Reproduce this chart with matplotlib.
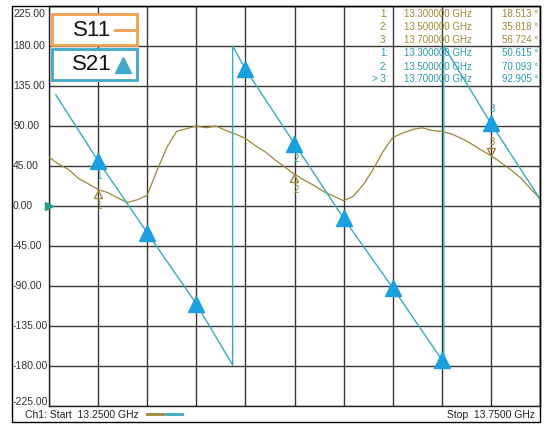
import numpy as np
import matplotlib
matplotlib.use("Agg")
import matplotlib.pyplot as plt
from matplotlib.patches import Rectangle
from matplotlib.lines import Line2D
from matplotlib.transforms import offset_copy, blended_transform_factory

plt.rcParams['font.family'] = ['Liberation Sans', 'DejaVu Sans']

# S11 phase trace (deg), sweep points 13.25 .. 13.75 GHz every 10 MHz
freq = np.linspace(13.25, 13.75, 51)
s11 = [55, 47, 41, 31, 25, 18.5, 15, 9, 4, 7,
       12, 40, 66, 84, 87, 90, 88, 90, 85, 81,
       76, 68, 61, 52, 44, 35.8, 29, 23, 16, 11,
       6, 11, 24, 41, 61, 77, 82, 86, 88, 85,
       84, 81, 76, 70, 63, 56.7, 49, 41, 32, 20, 8]

# S21 phase trace (deg), wrapped at +/-180
s21_freq = [13.257, 13.30, 13.35, 13.40, 13.437, 13.437, 13.45, 13.50,
            13.55, 13.60, 13.65, 13.652, 13.652, 13.70, 13.75]
s21 = [125, 50.6, -30, -110, -179, 180, 154, 70.1,
       -14, -92, -173, -178, 180, 92.9, 8]

# markers
mk_freq = [13.30, 13.50, 13.70]
mk_s11 = [18.513, 35.818, 56.724]
mk_s21 = [50.615, 70.093, 92.905]
s21_extra_freq = [13.35, 13.40, 13.45, 13.55, 13.60, 13.65]
s21_extra = [-30, -110, 154, -14, -92, -173]

yticks = np.arange(-225, 226, 45)
xticks = np.arange(13.25, 13.751, 0.05)

OLIVE = '#9c8838'
TEAL = '#3aaabb'
TEAL_TXT = '#2a9aa8'
MK_BLUE = '#1a9fe0'

W, H = 544, 426
fig = plt.figure(figsize=(W / 100, H / 100), dpi=100)
fig.patch.set_facecolor('white')

def fx(x):
    return x / W

def fy(y):
    return 1 - y / H

ax = fig.add_axes([fx(49), fy(406), (540 - 49) / W, 400 / H])
ax.set_xlim(13.25, 13.75)
ax.set_ylim(-225, 225)
ax.set_xticks(xticks)
ax.set_yticks(yticks)
ax.tick_params(length=0, labelleft=False, labelbottom=False)
ax.grid(True, color='#383838', lw=1.0)
for sp in ax.spines.values():
    sp.set_color('#222222')
    sp.set_linewidth(1.0)

ax.plot(freq, s11, color=OLIVE, lw=0.9, zorder=3)
ax.plot(s21_freq, s21, color=TEAL, lw=1.0, zorder=3)

# S21 markers
ax.plot(s21_extra_freq, s21_extra, ls='none', marker='^', ms=12,
        color=MK_BLUE, zorder=5)
ax.plot(mk_freq, mk_s21, ls='none', marker='^', ms=12, color=MK_BLUE, zorder=5)

# S11 markers (hollow, offset so apex sits on the trace)
down = offset_copy(ax.transData, fig=fig, y=-4, units='dots')
up = offset_copy(ax.transData, fig=fig, y=4, units='dots')
ax.plot(mk_freq[:2], mk_s11[:2], ls='none', marker='^', ms=6, mfc='none',
        mec=OLIVE, mew=1.0, transform=down, zorder=4)
ax.plot(mk_freq[2:], mk_s11[2:], ls='none', marker='v', ms=6, mfc='none',
        mec=OLIVE, mew=1.0, transform=up, zorder=4)

# marker numbers
for i, (f, v) in enumerate(zip(mk_freq, mk_s21)):
    dy = 10.5 if i == 2 else -11
    ax.annotate(str(i + 1), (f, v), xytext=(1, dy), textcoords='offset points',
                ha='center', va='center', fontsize=7, color=TEAL_TXT)
for i, (f, v) in enumerate(zip(mk_freq, mk_s11)):
    dy = 10 if i == 2 else -11.5
    ax.annotate(str(i + 1), (f, v), xytext=(1, dy), textcoords='offset points',
                ha='center', va='center', fontsize=7, color=OLIVE)

# reference level arrow
ax.plot([13.25], [0], marker='>', ms=6, color='#2a9d8f', clip_on=False, zorder=6)

# y labels
bt = blended_transform_factory(fig.transFigure, ax.transData)
for v in yticks:
    if v in (225, -225):
        continue
    ax.text(fx(13), v, '%.2f' % v, transform=bt, ha='left', va='center',
            fontsize=7.5, color='#333333')
fig.text(fx(13), fy(14), '225.00', ha='left', va='center', fontsize=7.5, color='#333333')
fig.text(fx(13), fy(402), '-225.00', ha='left', va='center', fontsize=7.5, color='#333333')

# outer frame
fig.add_artist(Rectangle((fx(12), fy(422)), (540 - 12) / W, (422 - 6) / H,
                         transform=fig.transFigure, fill=False, ec='black', lw=1.0))

# trace legend boxes
fig.add_artist(Rectangle((fx(52), fy(45)), 85 / W, 31 / H, transform=fig.transFigure,
                         fc='white', ec='#f0a050', lw=2.0, zorder=10))
fig.add_artist(Rectangle((fx(52), fy(80)), 85 / W, 31 / H, transform=fig.transFigure,
                         fc='white', ec='#40a8c8', lw=2.0, zorder=10))
fig.text(fx(92), fy(30), 'S11', ha='center', va='center', fontsize=16,
         color='#111111', zorder=11)
fig.text(fx(92), fy(64), 'S21', ha='center', va='center', fontsize=16,
         color='#111111', zorder=11)
fig.add_artist(Line2D([fx(115), fx(136)], [fy(30), fy(30)], color='#f0a050',
                      lw=2.0, zorder=11))
fig.add_artist(Line2D([fx(123)], [fy(65)], marker='^', ms=12, color='#40a8c8',
                      ls='none', zorder=11))

# marker table
rows_y = [14, 27.5, 40, 53.5, 66.5, 79.5]
nums = ['1:', '2:', '3:', '1:', '2:', '> 3:']
freqs_txt = ['%.6f GHz' % f for f in mk_freq] * 2
vals_txt = ['%.3f °' % v for v in mk_s11 + mk_s21]
for i, y in enumerate(rows_y):
    c = OLIVE if i < 3 else TEAL_TXT
    fig.text(fx(388), fy(y), nums[i], ha='right', va='center', fontsize=7, color=c)
    fig.text(fx(404), fy(y), freqs_txt[i], ha='left', va='center', fontsize=7, color=c)
    fig.text(fx(538), fy(y), vals_txt[i], ha='right', va='center', fontsize=7, color=c)

# status bar
fig.text(fx(25), fy(415), 'Ch1: Start  13.2500 GHz', ha='left', va='center',
         fontsize=7.5, color='#222222')
fig.add_artist(Line2D([fx(147), fx(163)], [fy(414), fy(414)], color=OLIVE, lw=2))
fig.add_artist(Line2D([fx(166), fx(182)], [fy(414), fy(414)], color=TEAL, lw=2))
fig.text(fx(535), fy(415), 'Stop  13.7500 GHz', ha='right', va='center',
         fontsize=7.5, color='#222222')

fig.savefig('out.png', dpi=100)
